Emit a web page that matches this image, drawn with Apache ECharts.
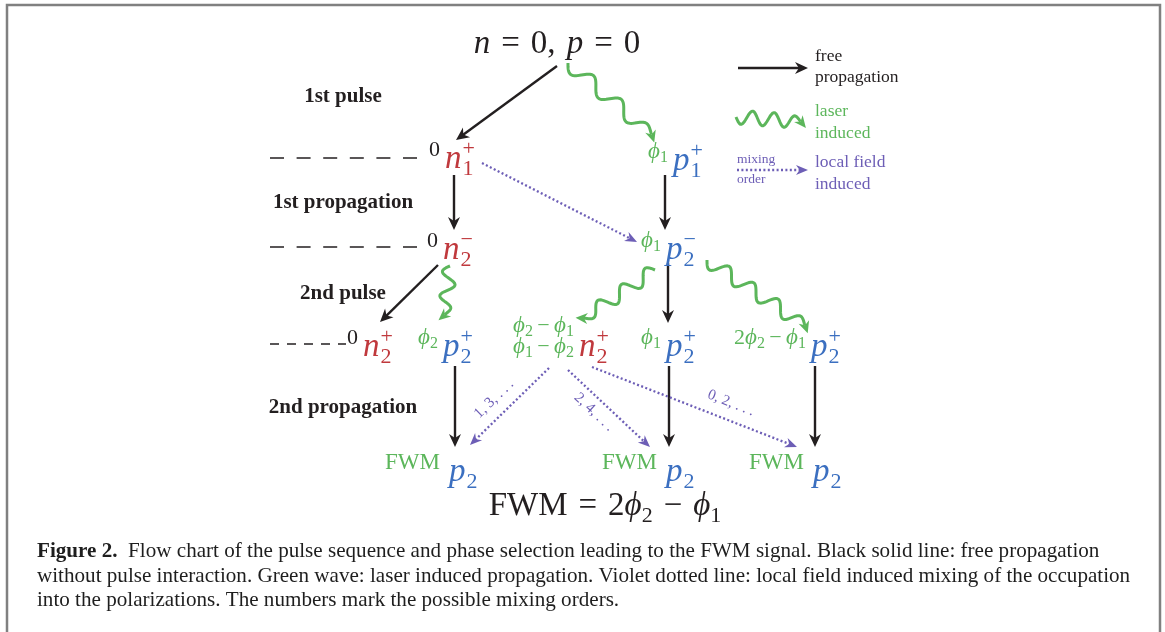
<!DOCTYPE html>
<html><head><meta charset="utf-8"><title>FWM flow chart</title>
<script src="https://cdn.jsdelivr.net/npm/echarts@6.0.0/dist/echarts.min.js"></script>
<style>html,body{margin:0;padding:0;background:#fff;}#chart{width:1165px;height:632px;}</style>
</head><body><div id="chart"></div>
<script>
// ===== data (diagram units of a 1165 x 632 plane) =====
const heading = 'n = 0, p = 0';
const headingPos = [557, 53];
const resultFormula = 'FWM = 2ϕ2 − ϕ1';
const resultPos = [605, 515];

const stepLabels = ['1st pulse', '1st propagation', '2nd pulse', '2nd propagation'];
const stepLabelX = [343, 343, 343, 343];
const stepLabelY = [102, 208, 299, 413];

// state nodes: letter x, baseline y, letter, superscript, subscript, prefix ('|' = new line)
const stateNodes = [
  [445, 168, 'n', '+', '1', '0'],
  [673, 170, 'p', '+', '1', 'ϕ1'],
  [443, 259, 'n', '−', '2', '0'],
  [666, 259, 'p', '−', '2', 'ϕ1'],
  [363, 356, 'n', '+', '2', '0'],
  [443, 356, 'p', '+', '2', 'ϕ2'],
  [579, 356, 'n', '+', '2', 'ϕ2−ϕ1|ϕ1−ϕ2'],
  [666, 356, 'p', '+', '2', 'ϕ1'],
  [811, 356, 'p', '+', '2', '2ϕ2−ϕ1'],
  [449, 481, 'p', '', '2', 'FWM'],
  [666, 481, 'p', '', '2', 'FWM'],
  [813, 481, 'p', '', '2', 'FWM']
];

// transitions: start x, start y, end x, end y
const freeArrows = [
  [557, 66, 456, 140], [454, 175, 454, 230], [665, 175, 665, 230], [668, 263, 668, 323],
  [438, 265, 380, 322], [455, 366, 455, 447], [669, 366, 669, 447], [815, 366, 815, 447]
];
const laserWaves = [
  [568, 63, 658, 140], [450, 266, 444, 323], [655, 270, 577, 323], [707, 260, 812, 330]
];
const mixingArrows = [
  [482, 163, 637, 242], [549, 368, 470, 445], [568, 370, 650, 447], [592, 367, 797, 447]
];
const mixingOrders = ['1, 3, . . .', '2, 4, . . .', '0, 2, . . .'];
const mixingOrderPos = [[494, 399], [594, 412], [731, 403]];

const levelLines = [[270, 158, 417], [270, 247, 417], [270, 344, 346]];

const legendMarks = [[738, 68, 808, 68], [736, 117, 809, 122], [737, 170, 808, 170]];
const legendText = [['free', 'propagation'], ['laser', 'induced'], ['local field', 'induced']];
const legendTextX = 815;
const legendTextY = [[61, 82], [116, 138], [167, 189]];
const mixingNote = ['mixing', 'order'];
const mixingNotePos = [[737, 163], [737, 183]];

const captionBold = 'Figure 2.';
const captionLines = [
  '  Flow chart of the pulse sequence and phase selection leading to the FWM signal. Black solid line: free propagation',
  'without pulse interaction. Green wave: laser induced propagation. Violet dotted line: local field induced mixing of the occupation',
  'into the polarizations. The numbers mark the possible mixing orders.'
];
const captionX = 37;
const captionY = [557, 582, 606];

// ===== styles =====
const FF = '"Liberation Serif","DejaVu Serif",serif';
const C = { black: '#231f20', red: '#c0393d', blue: '#3b6fc0', green: '#5cb65b', violet: '#6d5eb6', frame: '#808080', text: '#1e1e1e' };
const waveHalfCounts = [6, 4, 6, 8];   // wiggle look of each laser wave
const legendWaveHalfCount = 6;

const ctx = document.createElement('canvas').getContext('2d');
function measure(text, font) { ctx.font = font; return ctx.measureText(text).width; }
const midCache = {};
function midOffset(font) {
  if (midCache[font] == null) {
    ctx.font = font; ctx.textBaseline = 'middle';
    midCache[font] = ctx.measureText('H').actualBoundingBoxDescent;
    ctx.textBaseline = 'alphabetic';
  }
  return midCache[font];
}
const capW = measure(captionLines[1], '20px ' + FF);
const capSize = 20 * 1093 / capW;

const F = {
  mi: 'italic 33px ' + FF, rm: '33px ' + FF, ss: '22px ' + FF, resSub: '22px ' + FF,
  pre: '22px ' + FF, preIt: 'italic 23px ' + FF, preSub: '16px ' + FF, fwm: '23px ' + FF,
  step: 'bold 21px ' + FF, leg: '17.5px ' + FF, legSmall: '13.5px ' + FF, order: '15px ' + FF,
  cap: capSize.toFixed(2) + 'px ' + FF, capB: 'bold ' + capSize.toFixed(2) + 'px ' + FF
};

function textEl(text, font, fill, x, baseY) {
  return { type: 'text', x: x, y: baseY - midOffset(font), silent: true,
    style: { text: text, font: font, fill: fill, textAlign: 'left', align: 'left', textVerticalAlign: 'middle', verticalAlign: 'middle' } };
}
// tokens: [text, font, color, dy]
function runs(tokens, x, baseY, align) {
  const w = tokens.reduce((s, t) => s + measure(t[0], t[1]), 0);
  let cx = align === 'center' ? x - w / 2 : align === 'right' ? x - w : x;
  return tokens.map(t => { const el = textEl(t[0], t[1], t[2], cx, baseY + (t[3] || 0)); cx += measure(t[0], t[1]); return el; });
}
function mathTokens(s, big, color) {
  const toks = []; let prev = '';
  for (const c of s) {
    if (c === 'ϕ') toks.push([c, big ? F.mi : F.preIt, color, 0]);
    else if (/[np]/.test(c) && big) toks.push([c, F.mi, color, 0]);
    else if (/\d/.test(c) && prev === 'ϕ') toks.push([c, big ? F.resSub : F.preSub, color, big ? 7 : 4]);
    else if (c === '−' && !big) toks.push(['\u2009−\u2009', F.pre, color, 0]);
    else if (c === ' ' && big) toks.push(['\u00a0\u200a', F.rm, color, 0]);
    else toks.push([c, big ? F.rm : (s === 'FWM' ? F.fwm : F.pre), color, 0]);
    prev = c;
  }
  return toks;
}

function arrowHead(tip, dir, L, W) {
  const nx = -dir[1], ny = dir[0];
  const bx = tip[0] - dir[0] * L, by = tip[1] - dir[1] * L;
  return [tip, [bx + nx * W / 2, by + ny * W / 2], [tip[0] - dir[0] * L * 0.7, tip[1] - dir[1] * L * 0.7], [bx - nx * W / 2, by - ny * W / 2]];
}
function straightArrow(a, b, color, width, dash, L, W) {
  const dx = b[0] - a[0], dy = b[1] - a[1], len = Math.hypot(dx, dy), d = [dx / len, dy / len];
  const e = [b[0] - d[0] * L * 0.65, b[1] - d[1] * L * 0.65];
  return { type: 'group', children: [
    { type: 'line', shape: { x1: a[0], y1: a[1], x2: e[0], y2: e[1] }, style: { stroke: color, lineWidth: width, lineDash: dash || null } },
    { type: 'polygon', shape: { points: arrowHead(b, d, L, W) }, style: { fill: color } }
  ] };
}
function waveArrow(a, b, amp, nHalf) {
  const dx = b[0] - a[0], dy = b[1] - a[1], L = Math.hypot(dx, dy);
  const ux = dx / L, uy = dy / L, nx = -uy, ny = ux;
  const HL = 12, Lw = L - HL * 0.7;
  const k = Math.PI * nHalf / Lw, hw = Lw / nHalf;
  const pts = []; const N = Math.ceil(Lw / 1.2);
  for (let i = 0; i <= N; i++) {
    const s = Lw * i / N;
    const env = s > Lw - hw ? 1 - 0.55 * (s - (Lw - hw)) / hw : 1;
    const off = amp * env * Math.sin(k * s);
    pts.push([a[0] + ux * s + nx * off, a[1] + uy * s + ny * off]);
  }
  const e = pts[pts.length - 1], p = pts[pts.length - 3];
  let tx = e[0] - p[0], ty = e[1] - p[1]; const tl = Math.hypot(tx, ty); tx /= tl; ty /= tl;
  const tip = [e[0] + tx * HL * 0.7, e[1] + ty * HL * 0.7];
  return { type: 'group', children: [
    { type: 'polyline', shape: { points: pts }, style: { stroke: C.green, lineWidth: 3, fill: null, lineJoin: 'round' } },
    { type: 'polygon', shape: { points: arrowHead(tip, [tx, ty], HL, 11) }, style: { fill: C.green } }
  ] };
}

function pt(api, i, j) { return api.coord([api.value(i), api.value(j)]); }

function custom(name, data, render, z) {
  return { type: 'custom', name: name, coordinateSystem: 'cartesian2d', data: data, renderItem: render, silent: true, z: z || 2, clip: false, animation: false };
}

const series = [
  custom('levels', levelLines.map(r => [r[0], r[1], r[2], r[1]]), (params, api) => {
    const a = pt(api, 0, 1), b = pt(api, 2, 3);
    const short = (b[0] - a[0]) < 100;
    return { type: 'line', shape: { x1: a[0], y1: a[1], x2: b[0], y2: b[1] }, style: { stroke: C.black, lineWidth: 1.6, lineDash: short ? [9, 8] : [14, 12.6] } };
  }),
  custom('free propagation', freeArrows, (params, api) => straightArrow(pt(api, 0, 1), pt(api, 2, 3), C.black, 2.4, null, 13, 12)),
  custom('laser induced', laserWaves, (params, api) => waveArrow(pt(api, 0, 1), pt(api, 2, 3), 7, waveHalfCounts[params.dataIndex])),
  custom('local field induced', mixingArrows, (params, api) => straightArrow(pt(api, 0, 1), pt(api, 2, 3), C.violet, 2.3, [2, 2.4], 12, 10)),
  custom('mixing orders', mixingOrderPos, (params, api) => {
    const i = params.dataIndex, p = pt(api, 0, 1);
    const m = mixingArrows[i + 1];
    let ang = Math.atan2(m[3] - m[1], m[2] - m[0]);
    if (Math.cos(ang) < 0) ang += Math.PI;
    return { type: 'text', x: p[0], y: p[1], rotation: -ang, silent: true,
      style: { text: mixingOrders[i], font: F.order, fill: C.violet, textAlign: 'center', align: 'center', textVerticalAlign: 'middle', verticalAlign: 'middle' } };
  }),
  custom('states', stateNodes.map(n => [n[0], n[1]]), (params, api) => {
    const n = stateNodes[params.dataIndex], p = pt(api, 0, 1);
    const color = n[2] === 'n' ? C.red : C.blue;
    const els = [textEl(n[2], F.mi, color, p[0], p[1])];
    const lw = measure(n[2], F.mi);
    if (n[3]) els.push(textEl(n[3], F.ss, color, p[0] + lw + 1, p[1] - 13));
    if (n[4]) els.push(textEl(n[4], F.ss, color, p[0] + lw + 1, p[1] + 7));
    const lines = n[5].split('|');
    const pc = n[5] === '0' ? C.black : C.green;
    const gap = n[5] === 'FWM' ? 9 : 5;
    lines.forEach((ln, i) => {
      const by = lines.length > 1 ? p[1] - 24 + i * 21 : p[1] - 12;
      els.push(...runs(mathTokens(ln, false, pc), p[0] - gap, by, 'right'));
    });
    return { type: 'group', children: els };
  }, 3),
  custom('formulas', [headingPos, resultPos], (params, api) => {
    const p = pt(api, 0, 1);
    const s = params.dataIndex === 0 ? heading : resultFormula;
    return { type: 'group', children: runs(mathTokens(s, true, C.black), p[0], p[1], 'center') };
  }, 3),
  custom('steps', stepLabelX.map((x, i) => [x, stepLabelY[i]]), (params, api) => {
    const p = pt(api, 0, 1);
    return { type: 'group', children: runs([[stepLabels[params.dataIndex], F.step, C.black, 0]], p[0], p[1], 'center') };
  }, 3),
  custom('legend marks', legendMarks, (params, api) => {
    const a = pt(api, 0, 1), b = pt(api, 2, 3), i = params.dataIndex;
    if (i === 0) return straightArrow(a, b, C.black, 2.4, null, 13, 12);
    if (i === 1) return waveArrow(a, b, 7, legendWaveHalfCount);
    return straightArrow(a, b, C.violet, 2.3, [2, 2.4], 12, 10);
  }),
  custom('legend text', legendTextY.map(y => [legendTextX, y[0], y[1]]), (params, api) => {
    const i = params.dataIndex, a = pt(api, 0, 1), b = pt(api, 0, 2);
    const col = [C.black, C.green, C.violet][i];
    return { type: 'group', children: [textEl(legendText[i][0], F.leg, col, a[0], a[1]), textEl(legendText[i][1], F.leg, col, b[0], b[1])] };
  }, 3),
  custom('mixing note', mixingNotePos, (params, api) => {
    const p = pt(api, 0, 1);
    return textEl(mixingNote[params.dataIndex], F.legSmall, C.violet, p[0], p[1]);
  }, 3),
  custom('caption', captionY.map(y => [captionX, y]), (params, api) => {
    const p = pt(api, 0, 1), i = params.dataIndex;
    const toks = i === 0 ? [[captionBold, F.capB, C.text, 0], [captionLines[0], F.cap, C.text, 0]] : [[captionLines[i], F.cap, C.text, 0]];
    return { type: 'group', children: runs(toks, p[0], p[1], 'left') };
  }, 3)
];

const chart = echarts.init(document.getElementById('chart'), null, { renderer: 'canvas' });
chart.setOption({
  animation: false,
  backgroundColor: '#ffffff',
  grid: { left: 0, right: 0, top: 0, bottom: 0 },
  xAxis: { type: 'value', min: 0, max: 1165, show: false },
  yAxis: { type: 'value', min: 0, max: 632, inverse: true, show: false },
  graphic: [{ type: 'rect', x: 7, y: 5, shape: { x: 0, y: 0, width: 1153, height: 700 }, style: { fill: 'none', stroke: C.frame, lineWidth: 2.5 }, silent: true }],
  series: series
});
</script></body></html>
